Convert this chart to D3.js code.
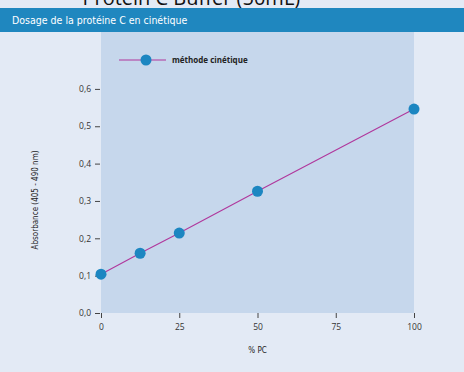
<!DOCTYPE html>
<html lang="fr">
<head>
    <meta charset="utf-8">
    <title>Dosage de la protéine C</title>
    <script src="https://cdn.jsdelivr.net/npm/d3@7"></script>
    <style>
        body { margin: 0; background: #fff; }
        svg { display: block; }
        .tick text { font-family: "Open Sans", "DejaVu Sans", sans-serif; font-size: 8.5px; fill: #333; }
        .tick line, .domain { stroke: #444; }
    </style>
</head>
<body>
    <div id="chart"></div>
    <script>
        // données
        const pcPercent = [0, 12.5, 25, 50, 100];
        const absorbance = [0.104, 0.160, 0.214, 0.326, 0.546];
        const xTicks = [0, 25, 50, 75, 100];
        const yTicks = [0, 0.1, 0.2, 0.3, 0.4, 0.5, 0.6];
        const seriesName = "méthode cinétique";

        const width = 464, height = 372;
        const mLeft = 101, mRight = 414, mTop = 32, mBottom = 313;

        const svg = d3.select("#chart").append("svg")
            .attr("width", width)
            .attr("height", height);

        // fond
        svg.append("rect").attr("width", width).attr("height", height).attr("fill", "#e3eaf5");

        // texte coupé en haut (il l'est aussi sur l'original)
        svg.append("text")
            .attr("x", 72).attr("y", 5)
            .attr("font-family", "Open Sans, sans-serif")
            .attr("font-size", 20)
            .attr("fill", "#111")
            .text("· Protein C Buffer (50mL)");

        // bandeau titre
        svg.append("rect").attr("x", 0).attr("y", 8).attr("width", width).attr("height", 24).attr("fill", "#1f87bf");
        svg.append("text")
            .attr("x", 12).attr("y", 24)
            .attr("font-family", "Liberation Sans Narrow, DejaVu Sans Condensed, sans-serif")
            .attr("font-size", 10.5)
            .attr("fill", "#fff")
            .text("Dosage de la protéine C en cinétique");

        const x = d3.scaleLinear().domain([0, 100]).range([mLeft, mRight]);
        const y = d3.scaleLinear().domain([0, 0.6]).range([mBottom, mBottom - 6 * 37.35]);

        // zone de tracé
        svg.append("rect")
            .attr("x", mLeft).attr("y", mTop)
            .attr("width", mRight - mLeft).attr("height", mBottom - mTop)
            .attr("fill", "#c6d7ec");

        const fmt = d => d3.format(".1f")(d).replace(".", ",");

        const yAxis = svg.append("g")
            .attr("transform", `translate(${mLeft - 1},0)`)
            .call(d3.axisLeft(y).tickValues(yTicks).tickFormat(fmt).tickSize(5).tickPadding(4));
        yAxis.select(".domain").remove();

        const xAxis = svg.append("g")
            .attr("transform", `translate(0,${mBottom})`)
            .call(d3.axisBottom(x).tickValues(xTicks).tickFormat(d3.format("d")).tickSize(5).tickPadding(6));
        xAxis.select(".domain").remove();

        // titres d'axes
        svg.append("text")
            .attr("transform", `translate(38,200) rotate(-90)`)
            .attr("text-anchor", "middle")
            .attr("font-family", "Liberation Sans Narrow, DejaVu Sans Condensed, sans-serif")
            .attr("font-size", 8)
            .attr("fill", "#222")
            .text("Absorbance (405 - 490 nm)");
        svg.append("text")
            .attr("x", x(50)).attr("y", 353)
            .attr("text-anchor", "middle")
            .attr("font-family", "Liberation Sans Narrow, DejaVu Sans Condensed, sans-serif")
            .attr("font-size", 8)
            .attr("fill", "#222")
            .text("% PC");

        // courbe
        const pts = pcPercent.map((p, i) => [p, absorbance[i]]);
        svg.append("path")
            .datum(pts)
            .attr("fill", "none")
            .attr("stroke", "#b0379c")
            .attr("stroke-width", 1.1)
            .attr("d", d3.line().x(d => x(d[0])).y(d => y(d[1])));

        svg.selectAll("circle.pt")
            .data(pts)
            .enter().append("circle")
            .attr("class", "pt")
            .attr("cx", d => x(d[0]))
            .attr("cy", d => y(d[1]))
            .attr("r", 5.5)
            .attr("fill", "#1c86c1");

        // légende
        const legend = svg.append("g").attr("transform", "translate(119,60)");
        legend.append("line").attr("x1", 0).attr("x2", 47).attr("y1", 0).attr("y2", 0)
            .attr("stroke", "#b0379c").attr("stroke-width", 1.1);
        legend.append("circle").attr("cx", 27).attr("cy", 0).attr("r", 5.5).attr("fill", "#1c86c1");
        legend.append("text")
            .attr("x", 53).attr("y", 3)
            .attr("font-family", "Open Sans, sans-serif")
            .attr("font-weight", "bold")
            .attr("font-size", 8)
            .attr("fill", "#222")
            .text(seriesName);
    </script>
</body>
</html>
